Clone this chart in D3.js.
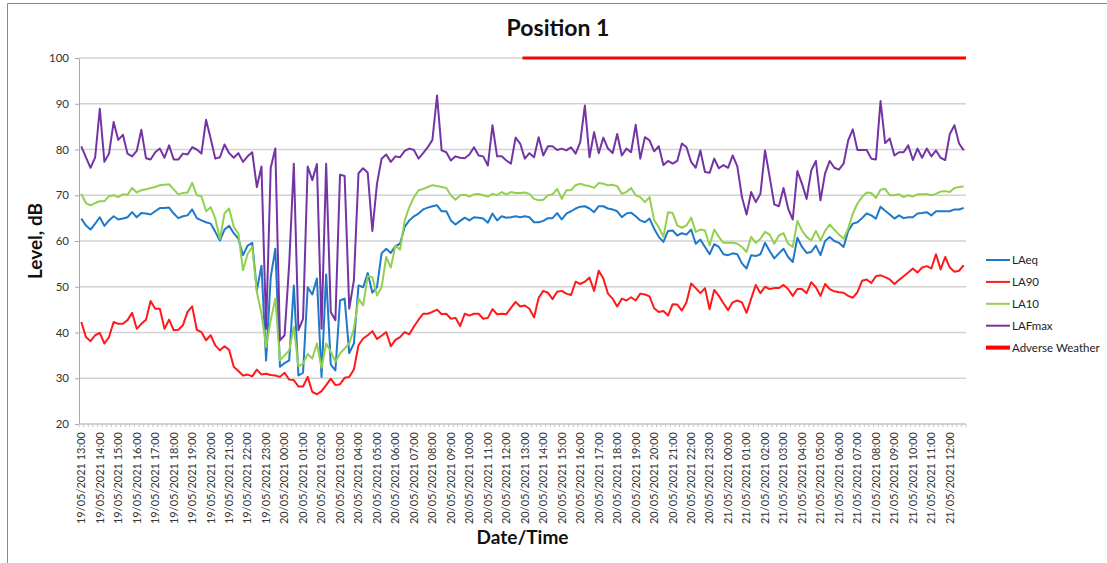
<!DOCTYPE html>
<html>
<head>
<meta charset="utf-8">
<script src="https://cdn.jsdelivr.net/npm/d3@7"></script>
<style>
  body { margin: 0; background: #fff; }
  svg { display: block; font-family: Lato, "Open Sans", sans-serif; }
</style>
</head>
<body>
<svg id="chart" width="1107" height="563"></svg>
<script>
// hour labels shown on the axis (every 4th category, data is 15-minute)
const hourLabels = [
  "19/05/2021 13:00", "19/05/2021 14:00", "19/05/2021 15:00", "19/05/2021 16:00",
  "19/05/2021 17:00", "19/05/2021 18:00", "19/05/2021 19:00", "19/05/2021 20:00",
  "19/05/2021 21:00", "19/05/2021 22:00", "19/05/2021 23:00", "20/05/2021 00:00",
  "20/05/2021 01:00", "20/05/2021 02:00", "20/05/2021 03:00", "20/05/2021 04:00",
  "20/05/2021 05:00", "20/05/2021 06:00", "20/05/2021 07:00", "20/05/2021 08:00",
  "20/05/2021 09:00", "20/05/2021 10:00", "20/05/2021 11:00", "20/05/2021 12:00",
  "20/05/2021 13:00", "20/05/2021 14:00", "20/05/2021 15:00", "20/05/2021 16:00",
  "20/05/2021 17:00", "20/05/2021 18:00", "20/05/2021 19:00", "20/05/2021 20:00",
  "20/05/2021 21:00", "20/05/2021 22:00", "20/05/2021 23:00", "21/05/2021 00:00",
  "21/05/2021 01:00", "21/05/2021 02:00", "21/05/2021 03:00", "21/05/2021 04:00",
  "21/05/2021 05:00", "21/05/2021 06:00", "21/05/2021 07:00", "21/05/2021 08:00",
  "21/05/2021 09:00", "21/05/2021 10:00", "21/05/2021 11:00", "21/05/2021 12:00"
];
const quarters = ["00", "15", "30", "45"];

// categories: every 15 minutes
const categories = hourLabels.flatMap(h => quarters.map(q => h.slice(0, -2) + q));

const yTicks = [20, 30, 40, 50, 60, 70, 80, 90, 100];

const laeq = [
  64.9, 63.4, 62.5, 63.8, 65.2, 63.3, 64.5, 65.4, 64.7, 64.9,
  65.2, 66.3, 65.2, 66.1, 66.0, 65.8, 66.5, 67.2, 67.2, 67.3,
  66.0, 65.0, 65.4, 65.6, 66.9, 65.0, 64.5, 64.1, 63.8, 62.0,
  60.1, 62.5, 63.3, 61.7, 60.5, 56.9, 59.0, 59.6, 49.2, 54.6,
  33.9, 52.1, 58.3, 32.5, 33.3, 33.9, 50.3, 30.6, 31.2, 49.9,
  48.3, 51.8, 30.3, 52.7, 33.0, 31.7, 47.0, 47.4, 35.5, 37.6,
  50.3, 49.9, 53.0, 48.7, 49.9, 57.3, 58.3, 57.4, 58.9, 59.4,
  63.1, 64.5, 65.4, 66.0, 66.9, 67.3, 67.6, 67.8, 66.5, 66.5,
  64.5, 63.6, 64.4, 65.1, 64.5, 65.2, 65.1, 64.9, 64.0, 66.0,
  64.5, 65.4, 65.1, 65.2, 65.4, 65.2, 65.4, 65.2, 64.1, 64.1,
  64.4, 65.0, 65.0, 66.1, 64.7, 66.0, 66.5, 67.1, 67.5, 67.6,
  67.1, 66.3, 67.6, 67.6, 67.1, 66.9, 66.5, 65.2, 66.0, 66.2,
  65.4, 64.5, 64.1, 64.9, 62.7, 60.9, 59.8, 62.2, 62.3, 61.2,
  61.7, 61.4, 62.5, 59.4, 60.3, 58.7, 57.1, 59.3, 58.7, 57.1,
  56.9, 57.3, 57.1, 55.1, 54.0, 56.9, 56.7, 57.1, 59.6, 57.8,
  56.2, 57.3, 58.3, 56.5, 55.4, 60.7, 58.7, 57.4, 57.6, 59.0,
  56.9, 60.0, 60.9, 60.0, 59.6, 58.7, 62.2, 63.8, 64.1, 65.0,
  66.0, 65.6, 64.9, 67.5, 66.6, 65.8, 64.9, 65.6, 65.0, 65.2,
  65.2, 66.0, 66.1, 66.3, 65.6, 66.5, 66.5, 66.5, 66.5, 66.9,
  66.9, 67.2
];

const la90 = [
  42.3, 39.0, 38.1, 39.4, 39.9, 37.6, 39.0, 42.3, 41.9, 41.9,
  42.7, 44.3, 40.8, 41.9, 42.8, 46.9, 45.2, 45.2, 40.8, 42.8,
  40.5, 40.6, 41.6, 44.5, 45.7, 40.6, 40.1, 38.3, 39.4, 37.2,
  36.1, 37.0, 36.2, 32.5, 31.6, 30.6, 30.8, 30.4, 31.9, 30.8,
  31.0, 30.7, 30.6, 30.3, 31.2, 29.7, 29.6, 28.2, 28.2, 30.3,
  27.0, 26.5, 27.2, 28.5, 29.9, 28.5, 28.7, 30.1, 30.3, 31.9,
  37.2, 38.7, 39.4, 40.3, 38.6, 39.3, 40.1, 37.0, 38.4, 39.0,
  40.1, 39.6, 41.3, 42.8, 44.1, 44.1, 44.5, 45.0, 44.0, 44.1,
  43.0, 43.2, 41.4, 44.1, 43.7, 44.1, 44.1, 43.0, 43.2, 45.1,
  44.0, 44.1, 44.0, 45.4, 46.7, 45.7, 45.9, 45.2, 43.3, 47.6,
  49.1, 48.7, 47.3, 48.9, 49.1, 48.5, 48.2, 51.1, 50.6, 51.1,
  52.0, 49.1, 53.5, 51.8, 48.5, 47.4, 45.7, 47.4, 47.0, 47.7,
  47.0, 48.5, 48.3, 47.9, 45.3, 44.5, 44.7, 43.7, 46.2, 46.1,
  44.8, 46.6, 50.7, 49.7, 48.6, 49.7, 45.1, 49.3, 48.0, 46.4,
  44.9, 46.6, 47.0, 46.6, 44.3, 47.4, 50.4, 48.6, 50.0, 49.5,
  49.7, 49.7, 50.4, 49.5, 48.0, 49.5, 49.5, 48.6, 51.0, 49.9,
  48.0, 50.6, 49.5, 49.0, 48.8, 48.7, 48.0, 47.6, 48.8, 51.3,
  51.6, 50.8, 52.3, 52.5, 52.1, 51.6, 50.6, 51.5, 52.3, 53.1,
  54.0, 53.1, 54.2, 54.5, 54.0, 57.1, 53.8, 56.5, 54.2, 53.3,
  53.5, 54.7
];

const la10 = [
  70.3, 68.3, 67.8, 68.3, 68.7, 68.7, 69.8, 70.0, 69.6, 70.2,
  70.1, 71.6, 70.6, 71.1, 71.3, 71.6, 71.8, 72.2, 72.3, 72.4,
  71.3, 70.2, 70.5, 70.6, 72.7, 70.0, 69.8, 66.5, 67.4, 64.9,
  60.5, 66.0, 67.1, 63.1, 61.6, 53.6, 57.2, 58.7, 48.8, 44.1,
  36.8, 42.7, 47.4, 33.9, 35.0, 36.1, 41.2, 32.6, 33.2, 35.3,
  34.3, 37.6, 32.3, 37.6, 35.8, 33.6, 35.4, 36.5, 37.6, 40.8,
  47.4, 45.9, 52.3, 52.1, 48.1, 49.9, 56.5, 54.2, 59.0, 58.1,
  64.5, 67.4, 69.6, 71.1, 71.4, 71.8, 72.2, 72.0, 71.8, 71.6,
  70.0, 69.0, 70.0, 70.1, 69.7, 70.2, 70.3, 70.0, 69.7, 70.3,
  70.0, 70.7, 70.2, 70.7, 70.5, 70.5, 70.6, 70.3, 69.2, 68.9,
  69.0, 70.0, 70.2, 71.4, 69.2, 71.1, 71.1, 72.2, 72.5, 72.2,
  72.0, 71.6, 72.7, 72.5, 72.2, 72.3, 72.0, 70.3, 70.7, 71.6,
  70.0, 69.6, 68.5, 69.6, 64.5, 63.0, 60.9, 66.3, 66.1, 63.4,
  62.9, 63.4, 65.1, 62.0, 62.5, 62.3, 59.0, 62.5, 60.9, 59.6,
  59.6, 59.6, 59.4, 58.7, 57.6, 60.9, 59.6, 60.5, 62.0, 61.4,
  59.4, 61.2, 61.7, 59.4, 58.7, 64.4, 62.3, 60.9, 60.1, 62.2,
  60.1, 62.2, 63.6, 62.5, 61.4, 60.5, 62.7, 66.0, 68.2, 69.6,
  70.6, 70.5, 69.4, 71.2, 71.4, 70.0, 70.0, 70.2, 69.6, 70.0,
  69.7, 70.2, 70.2, 70.3, 70.0, 70.3, 70.8, 70.9, 70.7, 71.6,
  71.8, 71.9
];

const lafmax = [
  80.7, 78.3, 76.0, 78.3, 88.9, 77.3, 79.1, 86.0, 82.1, 83.2,
  79.1, 78.5, 79.7, 84.3, 78.1, 77.8, 79.4, 80.2, 78.2, 80.9,
  77.8, 77.8, 79.1, 78.9, 80.5, 80.0, 79.1, 86.5, 82.4, 78.0,
  78.3, 81.1, 79.2, 78.2, 79.2, 77.3, 78.5, 79.4, 71.8, 76.3,
  40.8, 76.0, 80.2, 38.3, 39.4, 55.0, 76.9, 40.5, 43.0, 76.3,
  73.3, 76.8, 40.8, 76.9, 44.5, 42.7, 74.5, 74.2, 45.2, 51.4,
  74.8, 75.9, 74.9, 62.2, 72.5, 78.0, 78.9, 77.3, 78.5, 78.3,
  79.7, 80.2, 79.9, 78.0, 79.2, 80.5, 82.1, 91.8, 79.8, 79.4,
  77.6, 78.5, 78.2, 78.1, 78.9, 80.5, 78.7, 78.5, 76.5, 85.3,
  78.5, 78.5, 77.6, 76.9, 82.6, 81.3, 78.0, 79.2, 78.3, 82.7,
  78.7, 80.7, 80.7, 79.9, 80.2, 79.8, 80.5, 79.1, 81.6, 89.6,
  78.3, 83.8, 79.2, 82.6, 80.2, 79.2, 83.4, 78.7, 80.2, 79.4,
  85.4, 78.0, 82.7, 82.0, 79.6, 80.7, 76.6, 77.5, 76.9, 77.5,
  81.3, 80.5, 77.3, 76.0, 79.8, 75.1, 74.9, 78.0, 75.9, 76.6,
  76.0, 78.7, 76.3, 69.6, 65.8, 70.7, 68.5, 70.3, 79.8, 74.0,
  68.0, 67.6, 71.6, 67.1, 64.7, 75.3, 72.5, 69.2, 75.4, 77.5,
  68.9, 74.8, 77.5, 76.0, 75.6, 76.9, 82.0, 84.4, 79.9, 79.9,
  79.9, 78.0, 77.8, 90.6, 81.4, 82.4, 78.7, 79.4, 79.4, 80.9,
  77.7, 80.2, 78.2, 80.2, 78.5, 79.8, 78.2, 77.7, 83.4, 85.3,
  81.3, 79.8
];

// adverse weather flagged from this time to the end of the record
const adverseFrom = "20/05/2021 13:00";
const adverseLevel = 100;

const series = [
  { name: "LAeq", color: "#1f78c8", width: 2, values: laeq },
  { name: "LA90", color: "#ff1a1a", width: 2, values: la90 },
  { name: "LA10", color: "#92d050", width: 2, values: la10 },
  { name: "LAFmax", color: "#7434a4", width: 2, values: lafmax }
];
const adverseColor = "#ff0000";

const margin = { left: 79, right: 966, top: 58, bottom: 424 };

const svg = d3.select("#chart");

// frame
svg.append("path")
  .attr("d", "M7.5,563 L7.5,3.5 L1107,3.5")
  .attr("fill", "none")
  .attr("stroke", "#8a8a8a")
  .attr("stroke-width", 1);

const x = d3.scaleBand()
  .domain(categories)
  .range([margin.left, margin.right])
  .padding(0);

const y = d3.scaleLinear()
  .domain([20, 100])
  .range([margin.bottom, margin.top]);

const cx = c => x(c) + x.bandwidth() / 2;

// gridlines
svg.append("g")
  .selectAll("line")
  .data(yTicks.filter(t => t > 20))
  .enter().append("line")
  .attr("x1", margin.left)
  .attr("x2", margin.right)
  .attr("y1", d => y(d))
  .attr("y2", d => y(d))
  .attr("stroke", "#d2d2d2")
  .attr("stroke-width", 1.3);

// y axis
const yAxis = svg.append("g")
  .attr("transform", `translate(${margin.left},0)`)
  .call(d3.axisLeft(y).tickValues(yTicks).tickSize(4).tickPadding(6).tickSizeOuter(0));
yAxis.select(".domain").attr("stroke", "#a8a8a8");
yAxis.selectAll(".tick line").attr("stroke", "#a8a8a8");
yAxis.selectAll(".tick text")
  .attr("fill", "#333")
  .style("font-family", "Lato, sans-serif")
  .style("font-size", "11.5px");

// x axis: a tick between every category, label every hour
const xAxis = svg.append("g")
  .attr("transform", `translate(0,${margin.bottom})`);
xAxis.append("line")
  .attr("x1", margin.left)
  .attr("x2", margin.right)
  .attr("stroke", "#c4c4c4")
  .attr("stroke-width", 1.3);
xAxis.selectAll(".xtick")
  .data(categories.concat(["end"]))
  .enter().append("line")
  .attr("class", "xtick")
  .attr("x1", (d, i) => i < categories.length ? x(d) : margin.right)
  .attr("x2", (d, i) => i < categories.length ? x(d) : margin.right)
  .attr("y1", 0)
  .attr("y2", 3)
  .attr("stroke", "#c4c4c4");
xAxis.selectAll(".xlabel")
  .data(hourLabels)
  .enter().append("text")
  .attr("class", "xlabel")
  .attr("transform", d => `translate(${cx(d)},${8}) rotate(-90)`)
  .attr("dy", "0.35em")
  .attr("text-anchor", "end")
  .attr("fill", "#333")
  .style("font-size", "11px")
  .text(d => d);

// lines
const line = d3.line()
  .defined(d => d.v != null)
  .x(d => cx(d.c))
  .y(d => y(d.v));

series.forEach(s => {
  svg.append("path")
    .datum(categories.map((c, i) => ({ c: c, v: s.values[i] })))
    .attr("fill", "none")
    .attr("stroke", s.color)
    .attr("stroke-width", s.width)
    .attr("stroke-linejoin", "round")
    .attr("d", line);
});

// adverse weather bar at the top
const advStart = categories.indexOf(adverseFrom);
const advCats = categories.slice(advStart);
svg.append("line")
  .attr("x1", x(advCats[0]))
  .attr("x2", x(advCats[advCats.length - 1]) + x.bandwidth())
  .attr("y1", y(adverseLevel))
  .attr("y2", y(adverseLevel))
  .attr("stroke", adverseColor)
  .attr("stroke-width", 3);

// title and axis titles
svg.append("text")
  .attr("x", 558)
  .attr("y", 36)
  .attr("text-anchor", "middle")
  .style("font-size", "23px")
  .style("font-weight", "bold")
  .attr("fill", "#111")
  .text("Position 1");

svg.append("text")
  .attr("transform", `translate(42,${(margin.top + margin.bottom) / 2}) rotate(-90)`)
  .attr("text-anchor", "middle")
  .style("font-size", "19px")
  .style("font-weight", "bold")
  .attr("fill", "#111")
  .text("Level, dB");

svg.append("text")
  .attr("x", (margin.left + margin.right) / 2)
  .attr("y", 544)
  .attr("text-anchor", "middle")
  .style("font-size", "19px")
  .style("font-weight", "bold")
  .attr("fill", "#111")
  .text("Date/Time");

// legend
const legendItems = series.map(s => ({ name: s.name, color: s.color, width: s.width }))
  .concat([{ name: "Adverse Weather", color: adverseColor, width: 4 }]);

const legend = svg.append("g")
  .attr("transform", "translate(986,260)");

legendItems.forEach((d, i) => {
  const row = legend.append("g")
    .attr("transform", `translate(0,${i * 21.9})`);
  row.append("line")
    .attr("x1", 0)
    .attr("x2", 24)
    .attr("stroke", d.color)
    .attr("stroke-width", d.width);
  row.append("text")
    .attr("x", 26)
    .attr("dy", "0.35em")
    .attr("fill", "#222")
    .style("font-size", "11.5px")
    .text(d.name);
});
</script>
</body>
</html>
